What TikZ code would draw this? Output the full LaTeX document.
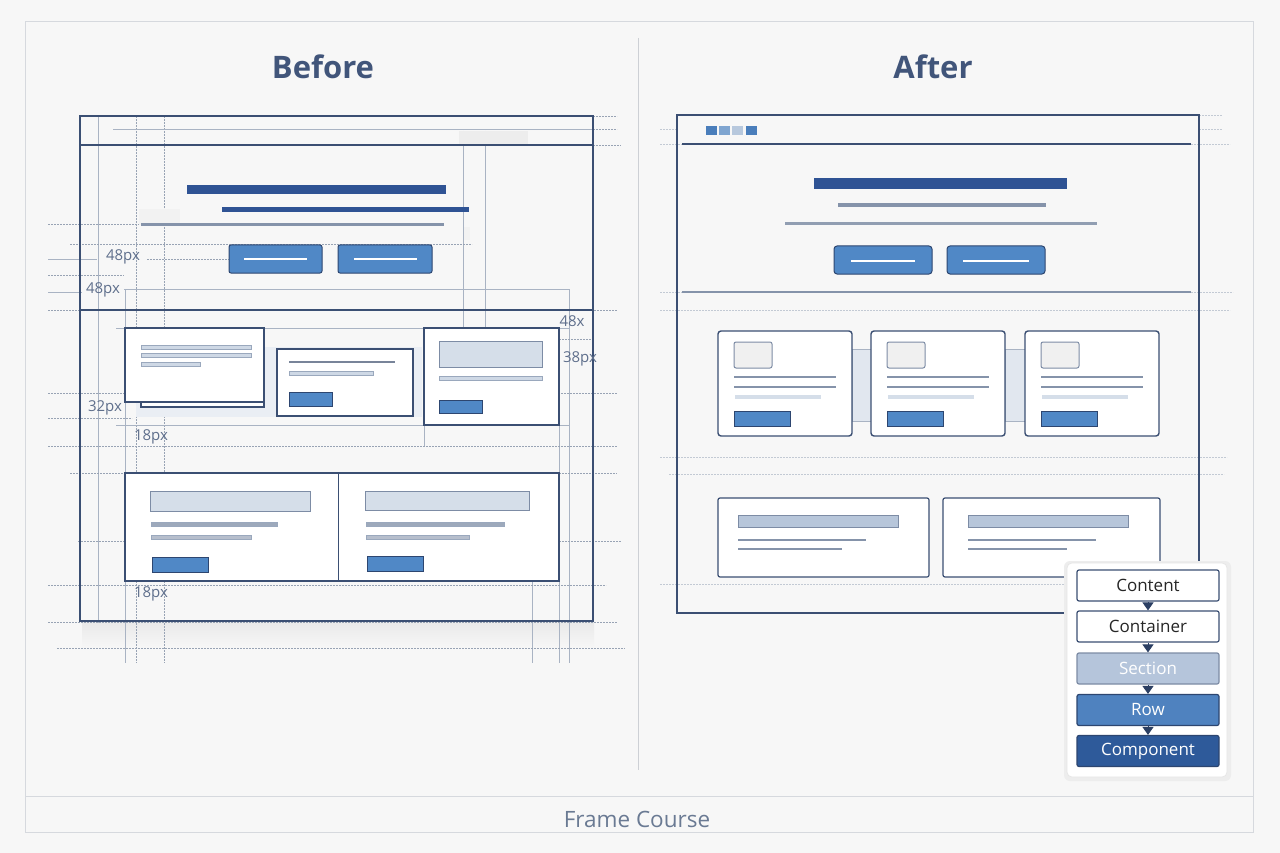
\documentclass[tikz,border=0pt]{standalone}
\usepackage{fontspec}
\setmainfont{Open Sans}
\usetikzlibrary{arrows.meta}
\definecolor{bg}{HTML}{F7F7F7}
\definecolor{outerc}{HTML}{D6D9DE}
\definecolor{navy}{HTML}{3B4F73}
\definecolor{darkbar}{HTML}{2F5394}
\definecolor{btnf}{HTML}{5088C6}
\definecolor{btnb}{HTML}{2D4670}
\definecolor{lightfill}{HTML}{CED8E5}
\definecolor{lightb}{HTML}{9AA8BD}
\definecolor{boxfill}{HTML}{D5DEE9}
\definecolor{boxb}{HTML}{7D8CA5}
\definecolor{grayl}{HTML}{8593AA}
\definecolor{guidec}{HTML}{A9B3C3}
\definecolor{dotc}{HTML}{98A3B4}
\definecolor{dotl}{HTML}{C3CAD4}
\definecolor{titlec}{HTML}{41557A}
\definecolor{lblc}{HTML}{5F6F8C}
\definecolor{footc}{HTML}{6A7A93}
\definecolor{bandc}{HTML}{E1E7EF}
\definecolor{secf}{HTML}{B5C5DB}
\definecolor{rowf}{HTML}{4F82BF}
\definecolor{compf}{HTML}{2E5A9A}
\definecolor{arrc}{HTML}{2B3F63}
\definecolor{sqa}{HTML}{4A7EBB}
\definecolor{sqb}{HTML}{7FA5D0}
\definecolor{sqc}{HTML}{B7C8DD}
\definecolor{barf}{HTML}{B7C6DA}
\tikzset{
  guide/.style={draw=guidec, line width=0.6pt},
  dotg/.style={draw=dotc, line width=0.6pt, dash pattern=on 1.6pt off 1.4pt},
  dotlt/.style={draw=dotl, line width=0.6pt, dash pattern=on 1.6pt off 1.4pt},
  frameB/.style={draw=navy, line width=1.6pt},
  card/.style={draw=navy, line width=1.4pt, fill=white},
  btn/.style={draw=btnb, line width=1pt, fill=btnf},
  lbar/.style={fill=lightfill, draw=lightb, line width=0.5pt},
  ibox/.style={fill=boxfill, draw=boxb, line width=1pt},
  lbl/.style={font=\fontsize{15}{18}\selectfont, text=lblc, inner sep=0pt},
  ttl/.style={font=\fontsize{31}{36}\selectfont\bfseries, text=titlec},
  legbox/.style={minimum width=142pt, minimum height=31pt, rounded corners=2pt, line width=1.2pt, draw=navy, font=\fontsize{17}{20}\selectfont, inner sep=0pt},
  legarrow/.style={draw=arrc, line width=1pt, -{Triangle[length=8pt,width=11pt]}},
}
\begin{document}
\begin{tikzpicture}[x=1pt,y=-1pt]
\useasboundingbox (0,0) rectangle (1280,853);
\fill[bg] (0,0) rectangle (1280,853);
\draw[outerc, line width=1pt] (25,22) rectangle (1253,832);
\draw[outerc, line width=1pt] (25,796) -- (1253,796);
\node[font=\fontsize{22.5}{26}\selectfont, text=footc] (foot) at (637,819) {Frame Course};
\draw[draw=outerc!90!gray, line width=1pt] (638,38) -- (638,770);
\node[ttl] (tB) at (323,67) {Before};
\node[ttl] (tA) at (933,67) {After};

% ================= BEFORE =================
\shade[top color=black!9, bottom color=bg] (82,621) rectangle (594,648);
\draw[guide] (98,116) -- (98,623);
\draw[dotg] (136,116) -- (136,663);
\draw[dotg] (164,116) -- (164,663);
\draw[guide] (125,289) -- (125,663);
\draw[guide] (463,131) -- (463,330);
\draw[guide] (485,131) -- (485,330);
\draw[guide] (569,289) -- (569,663);
\draw[guide] (532,581) -- (532,663);
\draw[guide] (559,425) -- (559,663);
\draw[guide] (424,425) -- (424,446);
\draw[dotg] (593,116) -- (617,116);
\draw[dotg] (593,129) -- (617,129);
\draw[guide] (113,129) -- (593,129);
\draw[dotg] (593,145) -- (621,145);
\draw[dotg] (48,224) -- (141,224);
\draw[dotg] (70,244) -- (472,244);
\draw[guide] (48,259) -- (97,259);
\draw[dotg] (147,259) -- (229,259);
\draw[dotg] (48,275) -- (124,275);
\draw[guide] (48,292) -- (82,292);
\draw[guide] (124,289) -- (569,289);
\draw[dotg] (48,310) -- (617,310);
\draw[guide] (116,328) -- (569,328);
\draw[dotg] (559,339) -- (593,339);
\draw[dotg] (48,393) -- (617,393);
\draw[dotg] (48,418) -- (132,418);
\draw[guide] (116,425) -- (569,425);
\draw[dotg] (48,446) -- (617,446);
\draw[dotg] (70,473) -- (617,473);
\draw[dotg] (78,541) -- (125,541);
\draw[dotg] (559,541) -- (621,541);
\draw[dotg] (48,585) -- (606,585);
\draw[dotg] (48,622) -- (617,622);
\draw[dotg] (57,648) -- (625,648);
\draw[frameB] (80,116) rectangle (593,621);
\draw[navy, line width=1.2pt] (80,145) -- (593,145);
\draw[navy, line width=1.4pt] (81,310) -- (593,310);
\fill[black!7] (459,131) rectangle (528,144);
\fill[black!5] (139,209) rectangle (180,225);
\fill[black!5] (464,227) rectangle (470,240);
\fill[darkbar] (187,185) rectangle (446,194);
\fill[darkbar] (222,207) rectangle (469,212);
\fill[grayl] (141,223.5) rectangle (444,226.5);
\draw[btn, rounded corners=2pt] (229,245) rectangle (322,273);
\draw[white, line width=1.2pt] (244,259) -- (307,259);
\draw[btn, rounded corners=2pt] (338,245) rectangle (432,273);
\draw[white, line width=1.2pt] (354,259) -- (417,259);
\node[lbl] (l1) at (123,257) {48px};
\node[lbl] (l2) at (103,290) {48px};
\node[lbl] (l3) at (572,321) {48x};
\node[lbl] (l4) at (580,359) {38px};
\node[lbl] (l5) at (105,408) {32px};
\node[lbl] (l6) at (151,437) {18px};
\node[lbl] (l7) at (151,594) {18px};
\fill[bandc!70] (136,347) rectangle (422,417);
\draw[card] (141,335) rectangle (264,407);
\draw[card] (125,328) rectangle (264,402);
\draw[lbar] (141,345) rectangle (251,349);
\draw[lbar] (141,353) rectangle (251,357);
\draw[lbar] (141,362) rectangle (200,366);
\draw[card] (277,349) rectangle (413,416);
\fill[grayl!90!black] (289,361) rectangle (395,363);
\draw[lbar] (289,371) rectangle (373,375);
\draw[btn] (289,392) rectangle (332,406);
\draw[card] (424,328) rectangle (559,425);
\draw[ibox] (439,341) rectangle (542,367);
\draw[lbar] (439,376) rectangle (542,380);
\draw[btn] (439,400) rectangle (482,413);
\draw[card] (125,473) rectangle (559,581);
\draw[navy, line width=0.8pt] (338,473) -- (338,581);
\draw[ibox] (150,491) rectangle (310,511);
\draw[lbar, fill=grayl!80] (151,522) rectangle (277,526);
\draw[lbar, fill=grayl!60] (151,535) rectangle (251,539);
\draw[btn] (152,557) rectangle (208,572);
\draw[ibox] (365,491) rectangle (529,510);
\draw[lbar, fill=grayl!80] (366,522) rectangle (504,526);
\draw[lbar, fill=grayl!60] (366,535) rectangle (469,539);
\draw[btn] (367,556) rectangle (423,571);

% ================= AFTER =================
\draw[dotlt] (1199,115) -- (1222,115);
\draw[dotlt] (660,129) -- (676,129);
\draw[dotlt] (1199,129) -- (1222,129);
\draw[dotlt] (660,144) -- (1230,144);
\draw[dotlt] (660,292) -- (1233,292);
\draw[dotlt] (660,310) -- (1230,310);
\draw[dotlt] (660,457) -- (1227,457);
\draw[dotlt] (669,474) -- (1224,474);
\draw[dotlt] (660,584) -- (1230,584);
\draw[frameB] (677,115) rectangle (1199,613);
\draw[navy, line width=1.2pt] (682,144) -- (1191,144);
\fill[sqa] (706,126) rectangle (717,135);
\fill[sqb] (719,126) rectangle (730,135);
\fill[sqc] (732,126) rectangle (743,135);
\fill[sqa] (746,126) rectangle (757,135);
\fill[darkbar] (814,178) rectangle (1067,189);
\fill[grayl] (838,203.5) rectangle (1046,207.5);
\fill[grayl!90] (785,222.5) rectangle (1097,225.5);
\draw[btn, rounded corners=3pt] (834,246) rectangle (932,274);
\draw[white, line width=1.2pt] (851,261) -- (915,261);
\draw[btn, rounded corners=3pt] (947,246) rectangle (1045,274);
\draw[white, line width=1.2pt] (963,261) -- (1029,261);
\draw[grayl, line width=1.2pt] (682,292) -- (1191,292);
\draw[fill=bandc, draw=guidec, line width=0.6pt] (852,349) rectangle (871,421);
\draw[fill=bandc, draw=guidec, line width=0.6pt] (1005,349) rectangle (1025,421);
\foreach \cx in {718,871,1025}{
  \draw[card, rounded corners=3pt] (\cx,331) rectangle (\cx+134,436);
  \draw[ibox, fill=black!6, rounded corners=2pt] (\cx+16,342) rectangle (\cx+54,368);
  \draw[grayl, line width=1.1pt] (\cx+16,377) -- (\cx+118,377);
  \draw[grayl, line width=1.1pt] (\cx+16,387) -- (\cx+118,387);
  \fill[boxfill] (\cx+17,395) rectangle (\cx+103,399);
  \draw[btn] (\cx+16,411) rectangle (\cx+72,426);
}
\draw[card, line width=1.2pt, rounded corners=2pt] (718,498) rectangle (929,577);
\draw[ibox, fill=barf] (738,515) rectangle (898,527);
\draw[grayl, line width=1.1pt] (738,540) -- (866,540);
\draw[grayl, line width=1.1pt] (738,549) -- (842,549);
\draw[card, line width=1.2pt, rounded corners=2pt] (943,498) rectangle (1160,577);
\draw[ibox, fill=barf] (968,515) rectangle (1128,527);
\draw[grayl, line width=1.1pt] (968,540) -- (1096,540);
\draw[grayl, line width=1.1pt] (968,549) -- (1067,549);

% ================= LEGEND =================
\fill[black!7, rounded corners=6pt] (1064,561) rectangle (1231,781);
\draw[fill=white, draw=black!10, line width=0.6pt, rounded corners=5pt] (1067,563) rectangle (1227,777);
\node[legbox, fill=white, text=black!85] (c1) at (1148,585.5) {Content};
\node[legbox, fill=white, text=black!85] (c2) at (1148,626.5) {Container};
\node[legbox, fill=secf, draw=boxb, text=white] (c3) at (1148,668.5) {Section};
\node[legbox, fill=rowf, draw=btnb, text=white] (c4) at (1148,710) {Row};
\node[legbox, fill=compf, draw=btnb, text=white] (c5) at (1148,751) {Component};
\draw[legarrow] (c1.south) -- (c2.north);
\draw[legarrow] (c2.south) -- (c3.north);
\draw[legarrow] (c3.south) -- (c4.north);
\draw[legarrow] (c4.south) -- (c5.north);
\end{tikzpicture}
\end{document}
